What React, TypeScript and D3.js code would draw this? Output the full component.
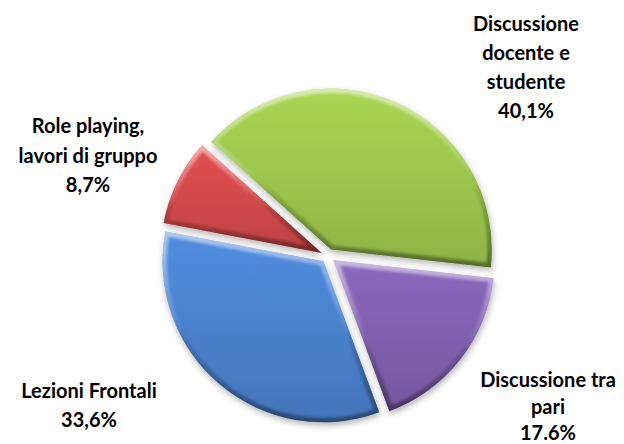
import { useEffect, useRef } from "react";
import * as d3 from "d3";

interface Slice {
  name: string
  value: number
  label: string
  lines: string[]
  color: string
}

const categories = [
  "Discussione docente e studente",
  "Discussione tra pari",
  "Lezioni Frontali",
  "Role playing, lavori di gruppo",
]
const shares = [40.1, 17.6, 33.6, 8.7]
const shareLabels = ["40,1%", "17.6%", "33,6%", "8,7%"]
const labelLines = [
  ["Discussione", "docente e", "studente"],
  ["Discussione tra", "pari"],
  ["Lezioni Frontali"],
  ["Role playing,", "lavori di gruppo"],
]
const colors = ["#9bc44c", "#7f5fad", "#4a80cb", "#d0484a"]

// label placement (x centre, first baseline, line step)
const labelLayout = [
  { x: 526, y: 31, step: 29 },
  { x: 548, y: 387, step: 26.5 },
  { x: 89, y: 398, step: 29 },
  { x: 88, y: 133, step: 29.5 },
]

export default function App() {
  const svgRef = useRef<SVGSVGElement>(null);

  useEffect(() => {
    const width = 624
    const height = 444
    const cx = 328
    const cy = 256
    const radius = 161
    const explode = 7

    const data: Slice[] = categories.map((name, i) => ({
      name, value: shares[i], label: shareLabels[i], lines: labelLines[i], color: colors[i]
    }))

    const svg = d3.select(svgRef.current)
      .attr("width", width)
      .attr("height", height)
      .html(null)

    svg.append("rect").attr("width", width).attr("height", height).attr("fill", "#ffffff")

    const defs = svg.append("defs")

    const shadow = defs.append("filter")
      .attr("id", "shadow")
      .attr("x", "-20%").attr("y", "-20%")
      .attr("width", "140%").attr("height", "140%")
    shadow.append("feDropShadow")
      .attr("dx", 1).attr("dy", 3)
      .attr("stdDeviation", 3)
      .attr("flood-color", "#000")
      .attr("flood-opacity", 0.3)

    const soften = defs.append("filter").attr("id", "soften")
    soften.append("feGaussianBlur").attr("stdDeviation", 1.6)

    const bevel = defs.append("linearGradient")
      .attr("id", "bevel")
      .attr("x1", 0).attr("y1", 0).attr("x2", 0).attr("y2", 1)
    bevel.append("stop").attr("offset", "0%").attr("stop-color", "#ffffff").attr("stop-opacity", 0.55)
    bevel.append("stop").attr("offset", "45%").attr("stop-color", "#ffffff").attr("stop-opacity", 0.1)
    bevel.append("stop").attr("offset", "60%").attr("stop-color", "#000000").attr("stop-opacity", 0.12)
    bevel.append("stop").attr("offset", "100%").attr("stop-color", "#000000").attr("stop-opacity", 0.4)

    data.forEach((d, i) => {
      const g = defs.append("linearGradient")
        .attr("id", `fill-${i}`)
        .attr("x1", 0).attr("y1", 0).attr("x2", 0).attr("y2", 1)
      const c = d3.color(d.color)!
      g.append("stop").attr("offset", "0%").attr("stop-color", c.brighter(0.25).formatHex())
      g.append("stop").attr("offset", "55%").attr("stop-color", d.color)
      g.append("stop").attr("offset", "100%").attr("stop-color", c.darker(0.25).formatHex())
    })

    const startAngle = -48 * Math.PI / 180
    const pie = d3.pie<Slice>()
      .value(d => d.value)
      .sort(null)
      .startAngle(startAngle)
      .endAngle(startAngle + 2 * Math.PI)

    const arc = d3.arc<d3.PieArcDatum<Slice>>()
      .innerRadius(0)
      .outerRadius(radius)

    const arcs = pie(data)

    const chart = svg.append("g").attr("transform", `translate(${cx},${cy})`)

    arcs.forEach((a, i) => {
      const mid = (a.startAngle + a.endAngle) / 2
      const ox = Math.sin(mid) * explode
      const oy = -Math.cos(mid) * explode

      defs.append("clipPath")
        .attr("id", `clip-${i}`)
        .append("path")
        .attr("d", arc(a) as string)

      const slice = chart.append("g")
        .attr("transform", `translate(${ox},${oy})`)

      slice.append("path")
        .attr("d", arc(a) as string)
        .attr("fill", `url(#fill-${i})`)
        .attr("filter", "url(#shadow)")

      slice.append("g")
        .attr("clip-path", `url(#clip-${i})`)
        .append("path")
        .attr("d", arc(a) as string)
        .attr("fill", "none")
        .attr("stroke", "url(#bevel)")
        .attr("stroke-width", 9)
        .attr("stroke-linejoin", "round")
        .attr("filter", "url(#soften)")
    })

    const labels = svg.append("g")
      .attr("font-family", "Lato, 'Open Sans', sans-serif")
      .attr("font-weight", 700)
      .attr("font-size", 20)
      .attr("fill", "#000000")
      .attr("text-anchor", "middle")

    data.forEach((d, i) => {
      const pos = labelLayout[i]
      const text = labels.append("text")
      const all = [...d.lines, d.label]
      all.forEach((line, j) => {
        text.append("tspan")
          .attr("x", pos.x)
          .attr("y", pos.y + j * pos.step)
          .text(line)
      })
    })
  }, []);

  return (
    <svg ref={svgRef} style={{ position: "absolute", left: 0, top: 0, display: "block" }}></svg>
  );
}
